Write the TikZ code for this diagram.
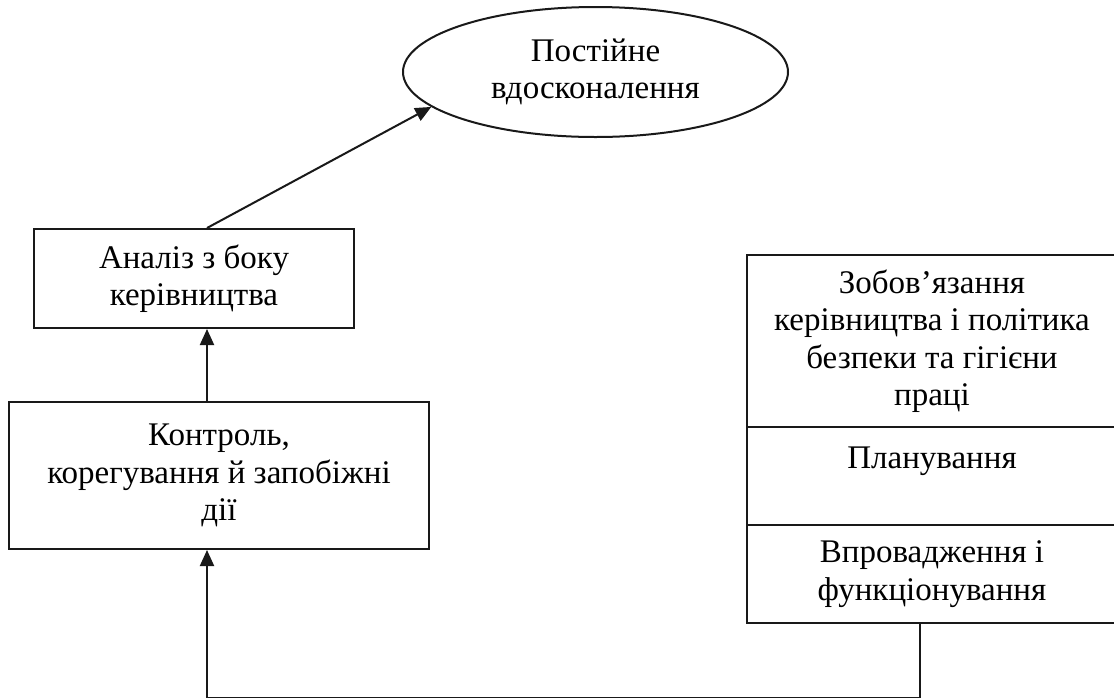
\documentclass[tikz,border=0pt]{standalone}
\usepackage{fontspec}
\setmainfont{Liberation Serif}
\usetikzlibrary{shapes.geometric,arrows.meta}
\begin{document}
\begin{tikzpicture}[x=1pt,y=-1pt,
  every node/.style={font=\fontsize{33}{37.5}\selectfont, align=center, inner sep=0pt},
  frame/.style={draw=black!90, line width=2pt, rectangle},
  oval/.style={draw=black!90, line width=2pt, ellipse},
  link/.style={draw=black!90, line width=2pt},
  arr/.style={link, -{Triangle[length=16pt,width=14pt]}}]
\useasboundingbox (0,0) rectangle (1114,697);

% goal of the cycle
\node[oval, minimum width=385pt, minimum height=130pt] (goal) at (595.5,72)
  {Постійне\\вдосконалення};

% left column
\node[frame, minimum width=320pt, minimum height=99pt] (review) at (194,278.5)
  {Аналіз з боку\\керівництва};
\node[frame, minimum width=420pt, minimum height=147pt] (check) at (219,475.5)
  {Контроль,\\корегування й запобіжні\\дії};

% right column: stacked sections
\node[frame, minimum width=370pt, minimum height=172pt] (policy) at (932,341)
  {Зобов’язання\\керівництва і політика\\безпеки та гігієни\\праці};
\node[frame, minimum width=370pt, minimum height=98pt] (plan) at (932,476)
  {Планування\\~};
\node[frame, minimum width=370pt, minimum height=98pt] (impl) at (932,574)
  {Впровадження і\\функціонування};

% connectors
\coordinate (cx) at (207,0);
\coordinate (bl) at (207,698.2);
\coordinate (br) at (920,698.2);
\draw[arr] (review.north -| cx) -- (goal.192);
\draw[arr] (check.north -| cx) -- (review.south -| cx);
\draw[link] (br |- impl.south) -- (br) -- (bl);
\draw[arr] (bl) -- (check.south -| cx);
\end{tikzpicture}
\end{document}
